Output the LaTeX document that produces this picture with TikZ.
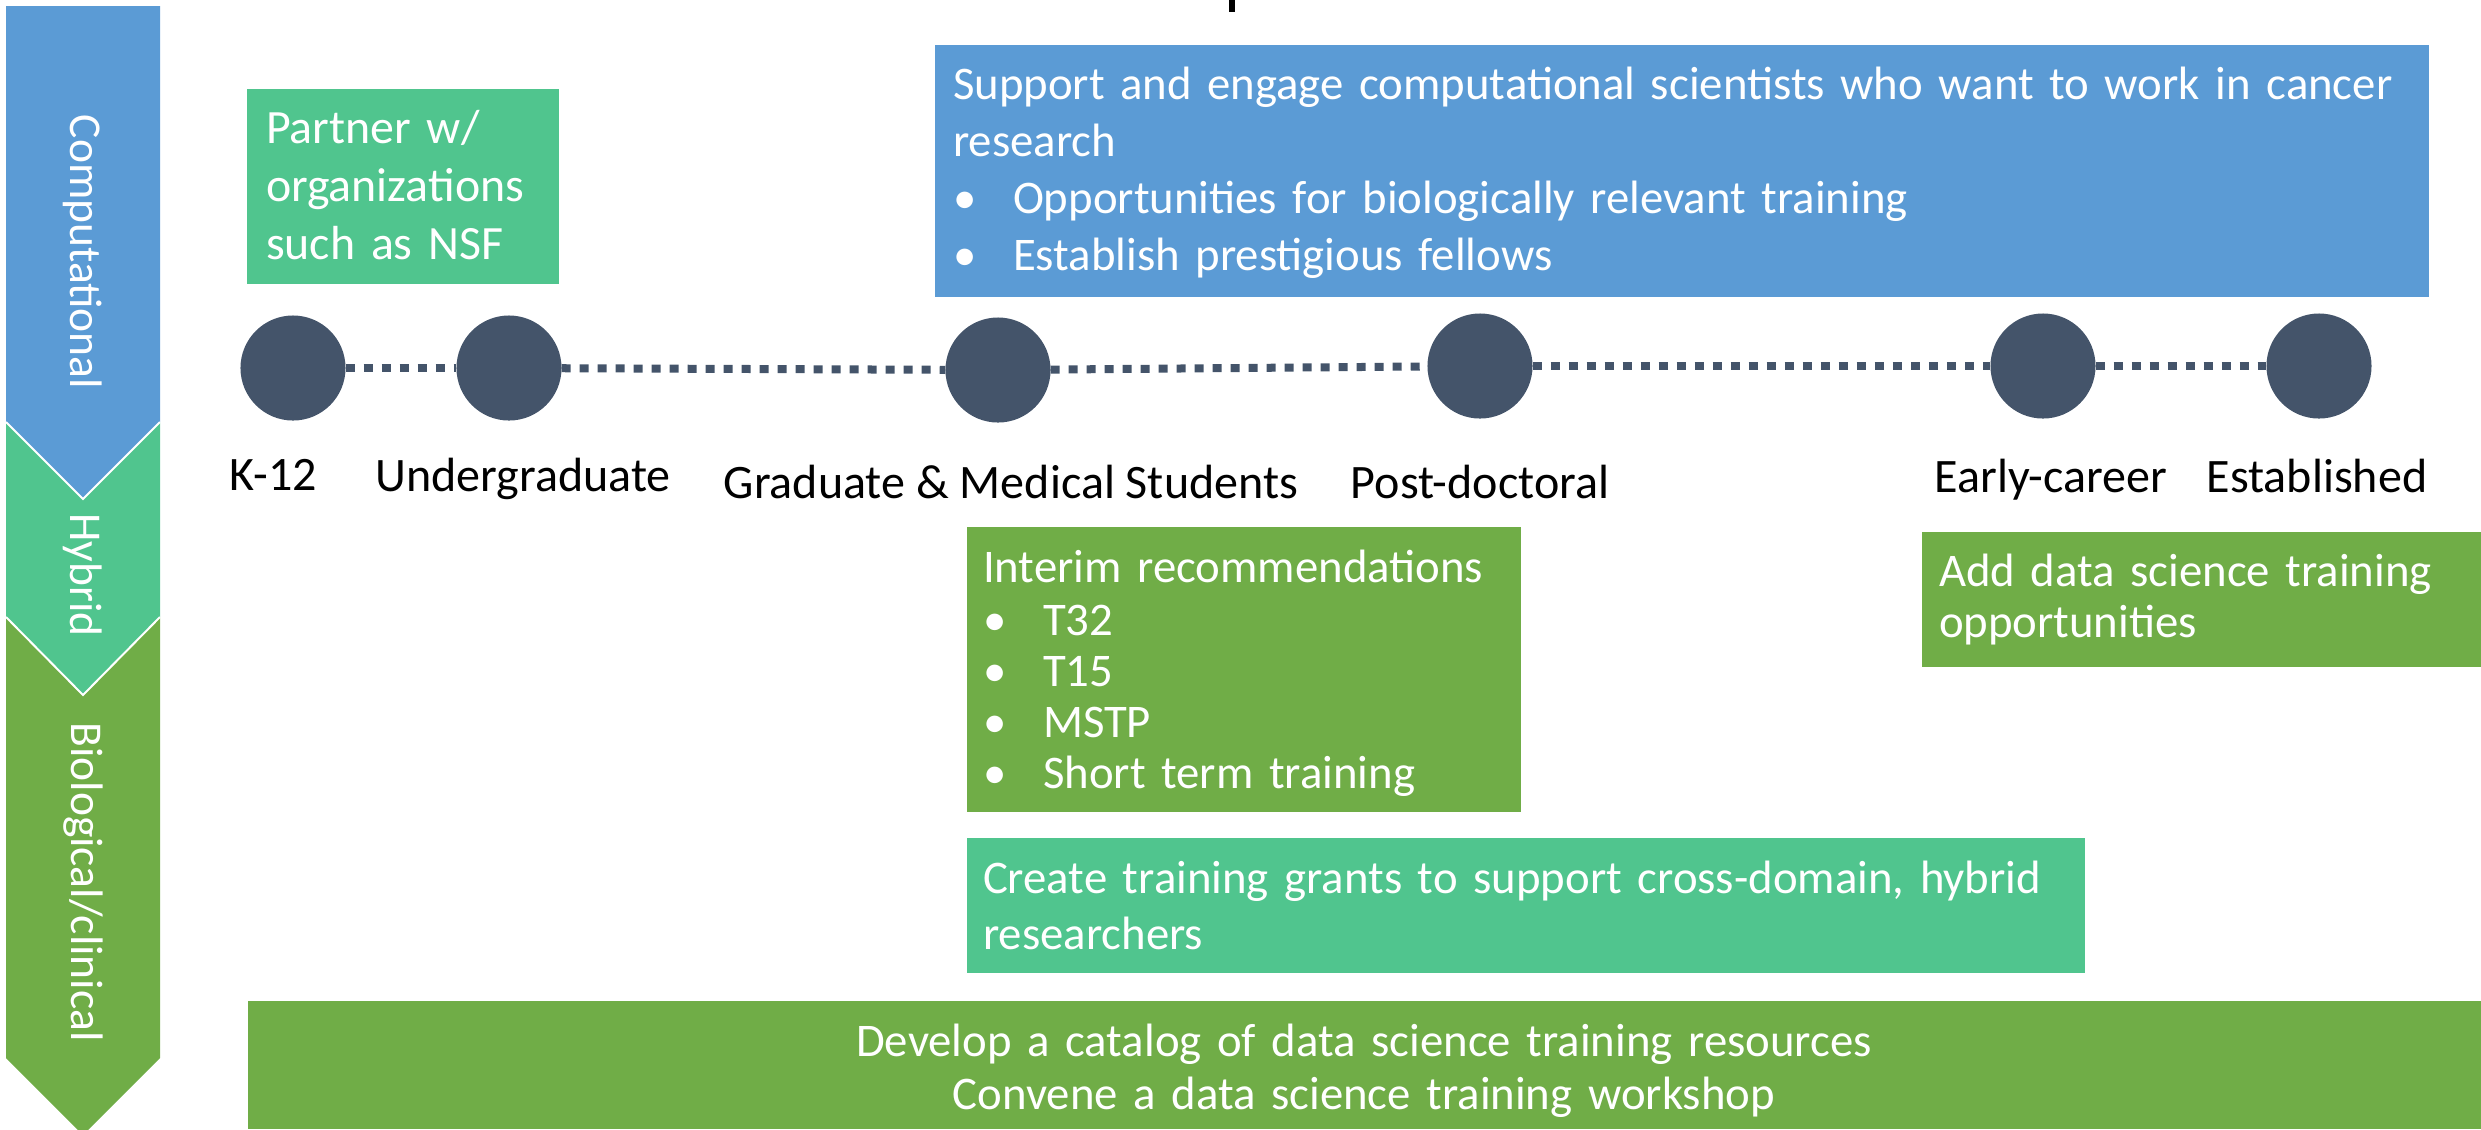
\documentclass[tikz,border=0pt]{standalone}
\usepackage{fontspec}
\setmainfont{Carlito}
\definecolor{compblue}{HTML}{5B9BD5}
\definecolor{hybgreen}{HTML}{50C58E}
\definecolor{biogreen}{HTML}{70AD47}
\definecolor{stagecol}{HTML}{44546A}
\newcommand{\bitem}[1]{\makebox[0.6cm][l]{•}#1}
\begin{document}
\begin{tikzpicture}[x=0.01cm,y=-0.01cm,
  every node/.style={inner sep=0pt, outer sep=0pt},
  sidelabel/.style={rotate=-90, text=white, font=\fontsize{12.95pt}{15pt}\selectfont},
  card/.style={rectangle, anchor=north west},
  cardtext/.style={anchor=base west, text width=#1, align=left, text=white},
  stage/.style={circle, fill=stagecol, minimum size=1.05cm},
  stagelabel/.style={anchor=base, font=\fontsize{13.66pt}{16pt}\selectfont},
  timeline/.style={draw=stagecol, line width=0.08cm, dash pattern=on 0.09cm off 0.09cm}
]
\useasboundingbox (0,0) rectangle (2481,1129);

% descender of the heading letter above the frame
\fill[black] (1229,0) rectangle (1235,12);

% left-hand chevron band
\fill[biogreen] (6,617) -- (83,695) -- (160,617) -- (160,1058) -- (83,1135) -- (6,1058) -- cycle;
\fill[hybgreen] (6,422) -- (83,499) -- (160,422) -- (160,617) -- (83,695) -- (6,617) -- cycle;
\fill[compblue] (6,6) -- (160,6) -- (160,422) -- (83,499) -- (6,422) -- cycle;
\draw[white, line width=0.02cm] (6,422) -- (83,499) -- (160,422);
\draw[white, line width=0.02cm] (6,617) -- (83,695) -- (160,617);
\node[sidelabel] (lcomp) at (83,252) {Computational};
\node[sidelabel] (lhyb) at (83,575) {Hybrid};
\node[sidelabel] (lbio) at (83,882) {Biological/clinical};

% career stages
\node[stage] (k12) at (293,368) {};
\node[stage] (ug) at (509,368) {};
\node[stage] (grad) at (998,370) {};
\node[stage] (post) at (1480,366) {};
\node[stage] (early) at (2043,366) {};
\node[stage] (est) at (2319,366) {};
\draw[timeline] (k12) -- (ug);
\draw[timeline] (ug) -- (grad);
\draw[timeline] (grad) -- (post);
\draw[timeline] (post) -- (early);
\draw[timeline] (early) -- (est);

\node[stagelabel] (tk12) at (273,490) {K-12};
\node[stagelabel] (tug) at (523,491) {Undergraduate};
\node[stagelabel] (tgrad) at (1011,498) {Graduate \& Medical Students};
\node[stagelabel] (tpost) at (1480,498) {Post-doctoral};
\node[stagelabel] (tearly) at (2051,492) {Early-career};
\node[stagelabel] (test) at (2317,492) {Established};

% recommendation cards
\node[card, fill=hybgreen, minimum width=3.12cm, minimum height=1.95cm] (partner) at (247,89) {};
\node[cardtext=3.2cm, font=\fontsize{13.6pt}{16.5pt}\selectfont] (partnert) at (266,143)
  {Partner w/\\organizations\\such as NSF};

\node[card, fill=compblue, minimum width=14.93cm, minimum height=2.52cm] (comp) at (935,45) {};
\node[cardtext=16cm, font=\fontsize{13.3pt}{16.22pt}\selectfont] (compt) at (953,99)
  {Support and engage computational scientists who want to work in cancer\\research\\
   \bitem{Opportunities for biologically relevant training}\\
   \bitem{Establish prestigious fellows}};

\node[card, fill=biogreen, minimum width=5.54cm, minimum height=2.85cm] (interim) at (967,527) {};
\node[cardtext=6cm, font=\fontsize{13.3pt}{14.51pt}\selectfont] (interimt) at (983,582)
  {Interim recommendations\\[0.02cm]\bitem{T32}\\\bitem{T15}\\\bitem{MSTP}\\\bitem{Short term training}};

\node[card, fill=biogreen, minimum width=5.59cm, minimum height=1.35cm] (adddata) at (1922,532) {};
\node[cardtext=6cm, font=\fontsize{13.3pt}{14.51pt}\selectfont] (adddatat) at (1939,586)
  {Add data science training\\opportunities};

\node[card, fill=hybgreen, minimum width=11.17cm, minimum height=1.35cm] (grants) at (967,838) {};
\node[cardtext=12cm, font=\fontsize{13.3pt}{15.93pt}\selectfont] (grantst) at (983,893)
  {Create training grants to support cross-domain, hybrid\\researchers};

\node[card, fill=biogreen, minimum width=22.33cm, minimum height=1.28cm] (catalog) at (248,1001) {};
\node[anchor=base, align=center, text=white, text width=16cm,
      font=\fontsize{13.3pt}{15.08pt}\selectfont] (catalogt) at (1364,1056)
  {Develop a catalog of data science training resources\\Convene a data science training workshop};
\end{tikzpicture}
\end{document}
